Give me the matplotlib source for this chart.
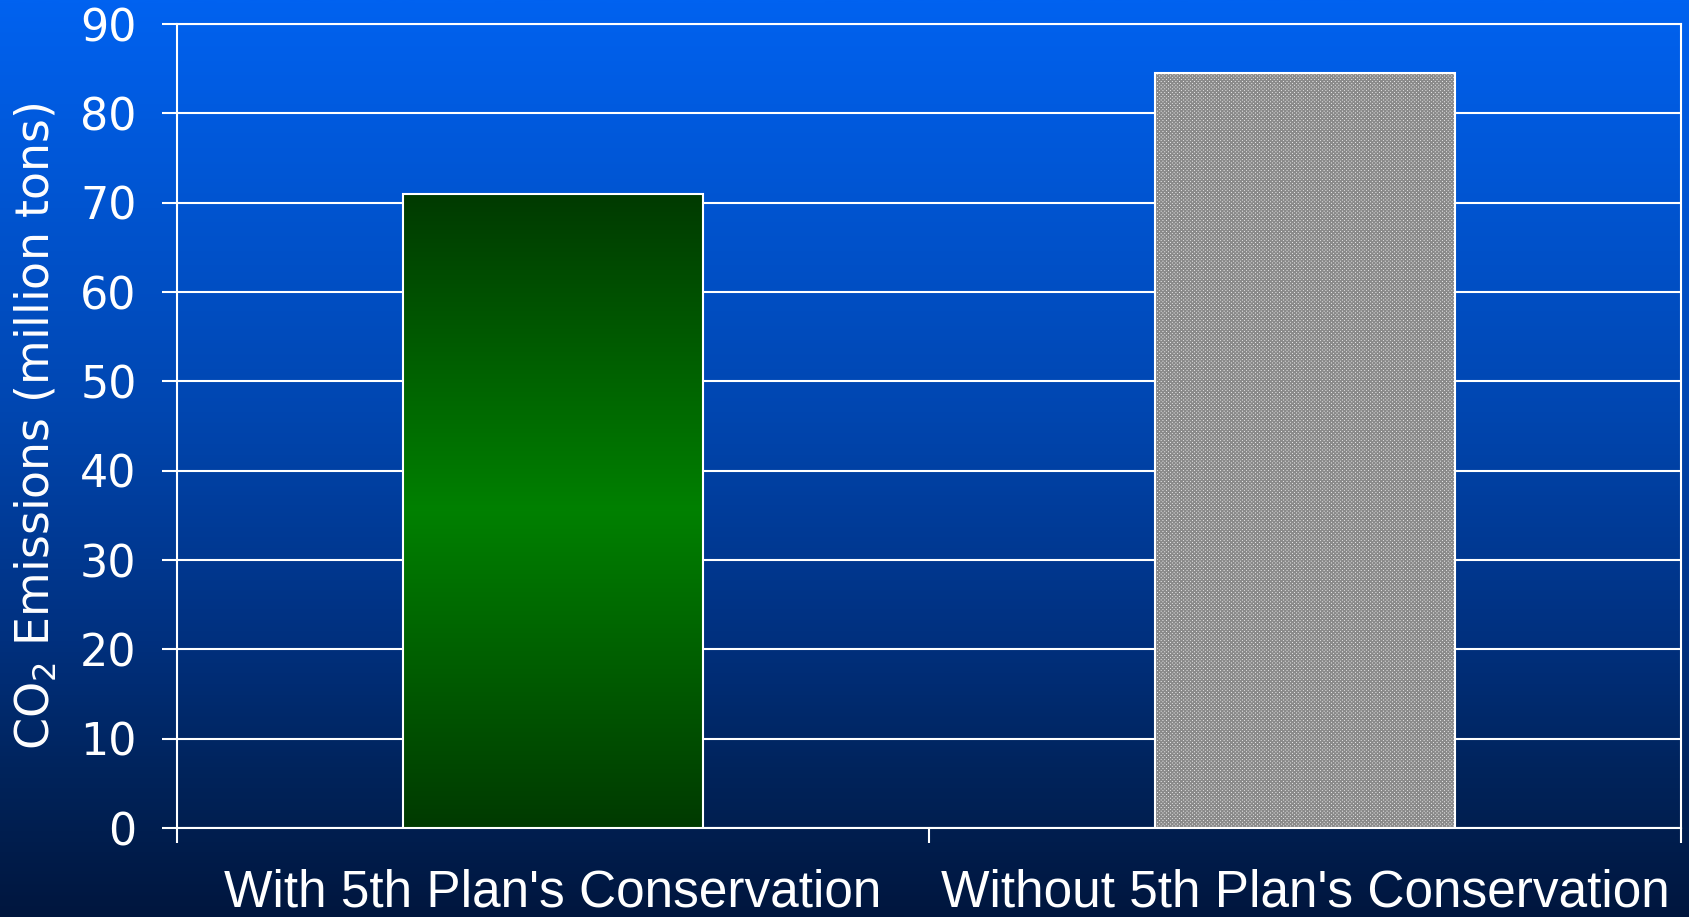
import numpy as np
import matplotlib.pyplot as plt
from matplotlib.colors import LinearSegmentedColormap

categorias = ["With 5th Plan's Conservation", "Without 5th Plan's Conservation"]
emisiones = [71.0, 84.5]
ticks_y = list(range(0, 91, 10))

plt.rcParams['mathtext.default'] = 'regular'
plt.rcParams['hatch.linewidth'] = 1.1

fig = plt.figure(figsize=(16.9, 9.17), dpi=100)

# Fondo con degradado vertical azul
fondo = LinearSegmentedColormap.from_list('fondo', [
    (0.0, '#0062f0'), (0.45, '#0046b0'), (0.7, '#00307e'),
    (0.85, '#00235a'), (1.0, '#00163e')])
bg = fig.add_axes([0, 0, 1, 1], zorder=-1)
bg.imshow(np.linspace(0, 1, 512).reshape(-1, 1), aspect='auto', cmap=fondo)
bg.axis('off')

ax = fig.add_axes([0.1047, 0.0970, 0.8900, 0.8768])
ax.set_facecolor('none')

x = np.arange(len(categorias))
ancho = 0.4

# Contornos blancos de las barras
barras = ax.bar(x, emisiones, width=ancho, color='none', edgecolor='white',
                linewidth=1.5, zorder=5)

# Barra verde con degradado (oscuro en extremos, claro al centro)
verde = LinearSegmentedColormap.from_list('verde', ['#008000', '#003a00'])
p = barras[0]
grad = np.abs(np.linspace(-1, 1, 512)).reshape(-1, 1)
im = ax.imshow(grad, cmap=verde, aspect='auto', zorder=3,
               extent=(p.get_x(), p.get_x() + p.get_width(), 0, p.get_height()))
im.set_clip_path(p)

# Barra gris con trama cruzada
ax.bar(x[1], emisiones[1], width=ancho, color='#f4f4f4', edgecolor='#8a8a8a',
       hatch='x' * 9, linewidth=0, zorder=3)

ax.set_xlim(-0.5, 1.5)
ax.set_ylim(0, 90)

ax.yaxis.grid(True, color='white', linewidth=1.5)
ax.set_axisbelow(True)

ax.set_yticks(ticks_y)
ax.tick_params(axis='y', colors='white', length=11, width=1.5, labelsize=32, pad=18)

ax.set_xticks(x, categorias)
ax.set_xticks([-0.5, 0.5, 1.5], minor=True)
ax.tick_params(axis='x', which='major', length=0, labelsize=37, pad=29, labelcolor='white')
ax.tick_params(axis='x', which='minor', length=11, width=1.5, color='white')
for lbl in ax.get_xticklabels():
    lbl.set_fontfamily('Liberation Sans')

for s in ax.spines.values():
    s.set_color('white')
    s.set_linewidth(1.5)

ax.set_ylabel('CO$_2$ Emissions (million tons)', color='white', fontsize=33)
ax.yaxis.set_label_coords(-0.078, 0.5)

fig.savefig('out.png', dpi=100)
